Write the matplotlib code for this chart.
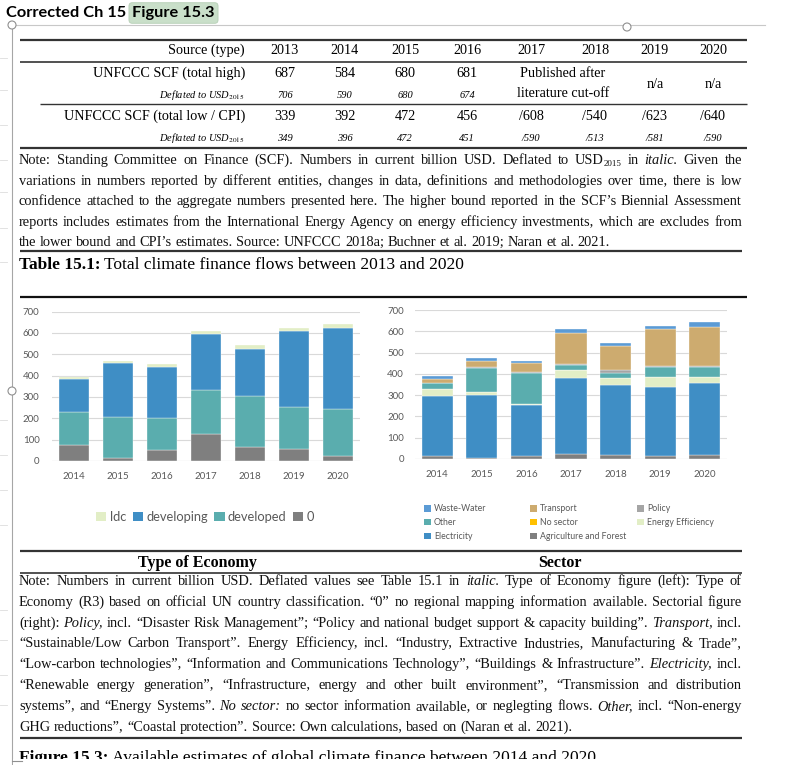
import numpy as np
import matplotlib
matplotlib.use('Agg')
import matplotlib.pyplot as plt
from matplotlib.patches import Patch, Circle, Rectangle

plt.rcParams['mathtext.fontset'] = 'stix'
SERIF = 'Liberation Serif'
SANS = 'Lato'

# ---- table 15.1 ----
table_years = ['2013', '2014', '2015', '2016', '2017', '2018', '2019', '2020']
scf_high = ['687', '584', '680', '681']
scf_high_defl = ['706', '590', '680', '674']
scf_low = ['339', '392', '472', '456', '/608', '/540', '/623', '/640']
scf_low_defl = ['349', '396', '472', '451', '/590', '/513', '/581', '/590']

# ---- figure 15.3 data (billion USD) ----
years = ['2014', '2015', '2016', '2017', '2018', '2019', '2020']
econ_zero = [73, 12, 52, 127, 67, 56, 25]
econ_developed = [158, 196, 148, 206, 238, 199, 219]
econ_developing = [152, 253, 242, 261, 220, 354, 381]
econ_ldc = [9, 8, 11, 15, 19, 16, 17]

sec_agri = [12, 5, 12, 23, 17, 12, 17]
sec_electricity = [285, 295, 240, 357, 331, 324, 341]
sec_energy_eff = [33, 14, 7, 39, 32, 50, 28]
sec_no_sector = [0, 0, 0, 0, 0, 0, 0]
sec_other = [25, 113, 147, 22, 23, 48, 48]
sec_policy = [2, 4, 3, 3, 13, 2, 2]
sec_transport = [21, 31, 41, 150, 115, 174, 183]
sec_waste = [14, 13, 11, 19, 13, 17, 24]

# '*' marks an italic word, '~' a subscript tail
note_table = [
    "Note: Standing Committee on Finance (SCF). Numbers in current billion USD. Deflated to USD~2015 in *italic. Given the",
    "variations in numbers reported by different entities, changes in data, definitions and methodologies over time, there is low",
    "confidence attached to the aggregate numbers presented here. The higher bound reported in the SCF\u2019s Biennial Assessment",
    "reports includes estimates from the International Energy Agency on energy efficiency investments, which are excludes from",
    "the lower bound and CPI\u2019s estimates. Source: UNFCCC 2018a; Buchner et al. 2019; Naran et al. 2021.",
]
note_figure = [
    "Note: Numbers in current billion USD. Deflated values see Table 15.1 in *italic. Type of Economy figure (left): Type of",
    "Economy (R3) based on official UN country classification. \u201c0\u201d no regional mapping information available. Sectorial figure",
    "(right): *Policy, incl. \u201cDisaster Risk Management\u201d; \u201cPolicy and national budget support & capacity building\u201d. *Transport, incl.",
    "\u201cSustainable/Low Carbon Transport\u201d. Energy Efficiency, incl. \u201cIndustry, Extractive Industries, Manufacturing & Trade\u201d,",
    "\u201cLow-carbon technologies\u201d, \u201cInformation and Communications Technology\u201d, \u201cBuildings & Infrastructure\u201d. *Electricity, incl.",
    "\u201cRenewable energy generation\u201d, \u201cInfrastructure, energy and other built environment\u201d, \u201cTransmission and distribution",
    "systems\u201d, and \u201cEnergy Systems\u201d. *No *sector: no sector information available, or neglegting flows. *Other, incl. \u201cNon-energy",
    "GHG reductions\u201d, \u201cCoastal protection\u201d. Source: Own calculations, based on (Naran et al. 2021).",
]

W, H = 797, 765
fig = plt.figure(figsize=(W / 100, H / 100), dpi=100)
page = fig.add_axes([0, 0, 1, 1])
page.set_xlim(0, W)
page.set_ylim(H, 0)
page.axis('off')
renderer = fig.canvas.get_renderer()


def hline(y, x0, x1, lw=1.5, color='#333333'):
    page.plot([x0, x1], [y, y], color=color, lw=lw, solid_capstyle='butt')


def justify(line, y, x0, x1, size, last=False):
    words = []
    for w in line.split(' '):
        style = 'normal'
        if w.startswith('*'):
            w, style = w[1:], 'italic'
        main, _, sub = w.partition('~')
        parts = [page.text(0, y, main, fontsize=size, fontstyle=style, family=SERIF,
                           va='baseline', ha='left', color='#111111')]
        if sub:
            parts.append(page.text(0, y + 2, sub, fontsize=size * 0.62, family=SERIF,
                                   va='baseline', ha='left', color='#111111'))
        words.append(parts)
    widths = [[p.get_window_extent(renderer).width for p in ps] for ps in words]
    total = sum(sum(ws) for ws in widths)
    gap = size * 100 / 72 * 0.25
    if not last:
        gap = max((x1 - x0 - total) / (len(words) - 1), 1.5)
    x = x0
    for ps, ws in zip(words, widths):
        for p, wd in zip(ps, ws):
            p.set_x(x)
            x += wd
        x += gap


# word-editor decorations
page.plot([12, 12], [25, 765], color='#a6a6a6', lw=0.8)
page.plot([12, 765], [25, 25], color='#c8c8c8', lw=0.8)
for yy in [58, 90, 125, 160, 192, 228, 262, 420, 455, 490, 525, 610, 640, 675, 705]:
    page.plot([0, 7], [yy, yy], color='#dddddd', lw=0.6)
for cx, cy in [(12, 25), (627, 27), (12, 391)]:
    page.add_patch(Circle((cx, cy), 4, facecolor='white', edgecolor='#909090', lw=0.8, zorder=5))

t1 = page.text(6, 13, 'Corrected Ch 15 ', family=SANS, fontweight='bold', fontsize=11.8,
               va='center', ha='left', color='black')
w1 = t1.get_window_extent(renderer).width
page.text(6 + w1 + 2, 13, 'Figure 15.3', family=SANS, fontweight='bold', fontsize=11.8,
          va='center', ha='left', color='black',
          bbox=dict(boxstyle='round,pad=0.2', facecolor='#c9dfc9', edgecolor='#b5ceb5', lw=0.6))

# ---- table ----
col_x = [285, 345, 405, 467, 531, 595, 655, 713]
label_x = 245
tsize = 10.2
hline(40, 20, 747, 1.6)
hline(62, 20, 747, 1.2)
hline(104, 40, 747, 1.0)
hline(148, 20, 747, 1.6)
page.text(label_x, 50, 'Source (type)', family=SERIF, fontsize=tsize, ha='right', va='center')
for x, yr in zip(col_x, table_years):
    page.text(x, 50, yr, family=SERIF, fontsize=tsize, ha='center', va='center')

page.text(label_x, 73, 'UNFCCC SCF (total high)', family=SERIF, fontsize=tsize, ha='right', va='center')
page.text(label_x, 95, 'Deflated to USD$_{2015}$', family=SERIF, fontsize=7.5, fontstyle='italic',
          ha='right', va='center')
for x, v, d in zip(col_x, scf_high, scf_high_defl):
    page.text(x, 73, v, family=SERIF, fontsize=tsize, ha='center', va='center')
    page.text(x, 95, d, family=SERIF, fontsize=7.5, fontstyle='italic', ha='center', va='center')
page.text(563, 73, 'Published after', family=SERIF, fontsize=tsize, ha='center', va='center')
page.text(563, 93, 'literature cut-off', family=SERIF, fontsize=tsize, ha='center', va='center')
for x in col_x[6:]:
    page.text(x, 84, 'n/a', family=SERIF, fontsize=tsize, ha='center', va='center')

page.text(label_x, 116, 'UNFCCC SCF (total low / CPI)', family=SERIF, fontsize=tsize, ha='right', va='center')
page.text(label_x, 138, 'Deflated to USD$_{2015}$', family=SERIF, fontsize=7.5, fontstyle='italic',
          ha='right', va='center')
for x, v, d in zip(col_x, scf_low, scf_low_defl):
    page.text(x, 116, v, family=SERIF, fontsize=tsize, ha='center', va='center')
    page.text(x, 138, d, family=SERIF, fontsize=7.5, fontstyle='italic', ha='center', va='center')

nsize = 10.4
for i, line in enumerate(note_table):
    justify(line, 164 + i * 20.5, 19, 742, nsize, last=(i == len(note_table) - 1))
hline(251, 20, 742, 1.6)
t2 = page.text(19, 265, 'Table 15.1:', family=SERIF, fontsize=12.5, fontweight='bold', ha='left', va='center')
w2 = t2.get_window_extent(renderer).width
page.text(19 + w2 + 4, 265, 'Total climate finance flows between 2013 and 2020', family=SERIF,
          fontsize=12.5, ha='left', va='center')
hline(297, 20, 747, 1.6, '#111111')

# ---- charts ----
x = np.arange(len(years))
grid_c = '#d9d9d9'
tick_c = '#595959'


def chart(left, right, zero_y, top_y):
    ax = fig.add_axes([left / W, 1 - zero_y / H, (right - left) / W, (zero_y - top_y) / H])
    ax.set_xlim(-0.5, len(years) - 0.5)
    ax.set_ylim(0, 700)
    ax.set_yticks(range(0, 701, 100))
    ax.set_xticks(x)
    ax.set_xticklabels(years)
    for s in ax.spines.values():
        s.set_visible(False)
    ax.grid(axis='y', color=grid_c, lw=0.8)
    ax.set_axisbelow(True)
    ax.axhline(0, color=grid_c, lw=0.8)
    ax.tick_params(length=0, labelsize=7, labelcolor=tick_c, pad=8)
    for lab in ax.get_xticklabels() + ax.get_yticklabels():
        lab.set_family(SANS)
    return ax


def stack(ax, series):
    bottom = np.zeros(len(years))
    for vals, color in series:
        ax.bar(x, vals, 0.7, bottom=bottom, color=color, edgecolor='white', lw=0.25)
        bottom += np.array(vals)


c_dev = '#3f8ec5'
c_devd = '#5aadae'
c_zero = '#7f7f7f'
c_ldc = '#e2eec6'
ax1 = chart(52, 360, 461, 311.5)
stack(ax1, [(econ_zero, c_zero), (econ_developed, c_devd),
            (econ_developing, c_dev), (econ_ldc, c_ldc)])
ax1.tick_params(axis='y', pad=9)

c_trans = '#cdab6f'
c_waste = '#5b9bd5'
c_policy = '#a5a5a5'
c_nosec = '#ffc000'
ax2 = chart(415, 727, 459, 310)
stack(ax2, [(sec_agri, c_zero), (sec_electricity, c_dev), (sec_energy_eff, c_ldc),
            (sec_no_sector, c_nosec), (sec_other, c_devd), (sec_policy, c_policy),
            (sec_transport, c_trans), (sec_waste, c_waste)])

leg1 = [('ldc', c_ldc), ('developing', c_dev), ('developed', c_devd), ('0', c_zero)]
fig.legend([Patch(facecolor=c) for _, c in leg1], [n for n, _ in leg1],
           loc='center', bbox_to_anchor=(205 / W, 1 - 517 / H), ncol=4, frameon=False,
           prop={'family': SANS, 'size': 9.3}, labelcolor=tick_c, handlelength=0.8,
           handleheight=0.8, handletextpad=0.25, columnspacing=0.5, borderpad=0)

leg2_cols = [
    [('Waste-Water', c_waste), ('Other', c_devd), ('Electricity', c_dev)],
    [('Transport', c_trans), ('No sector', c_nosec), ('Agriculture and Forest', c_zero)],
    [('Policy', c_policy), ('Energy Efficiency', c_ldc)],
]
for cx, items in zip([420, 526, 633], leg2_cols):
    fig.legend([Patch(facecolor=c) for _, c in items], [n for n, _ in items],
               loc='upper left', bbox_to_anchor=(cx / W, 1 - 500 / H), ncol=1, frameon=False,
               prop={'family': SANS, 'size': 6.3}, labelcolor=tick_c, handlelength=0.8,
               handleheight=0.8, handletextpad=0.3, labelspacing=0.55, borderpad=0)

# ---- figure 15.3 captions ----
hline(551, 20, 742, 1.6)
page.text(197, 563, 'Type of Economy', family=SERIF, fontsize=11.5, fontweight='bold', ha='center', va='center')
page.text(560, 563, 'Sector', family=SERIF, fontsize=11.5, fontweight='bold', ha='center', va='center')
hline(573, 20, 742, 1.2)
for i, line in enumerate(note_figure):
    justify(line, 585 + i * 20.8, 19, 742, nsize, last=(i == len(note_figure) - 1))
hline(738, 20, 742, 1.6)
t3 = page.text(19, 762, 'Figure 15.3:', family=SERIF, fontsize=12.5, fontweight='bold', ha='left', va='baseline')
w3 = t3.get_window_extent(renderer).width
page.text(19 + w3 + 4, 762, 'Available estimates of global climate finance between 2014 and 2020',
          family=SERIF, fontsize=12.5, ha='left', va='baseline')
page.add_patch(Rectangle((13, 759), 780, 10, facecolor='white', edgecolor='none', zorder=6))
page.plot([12, 22], [761, 761], color='#909090', lw=0.8, zorder=7)

fig.savefig('out.png', dpi=100)
